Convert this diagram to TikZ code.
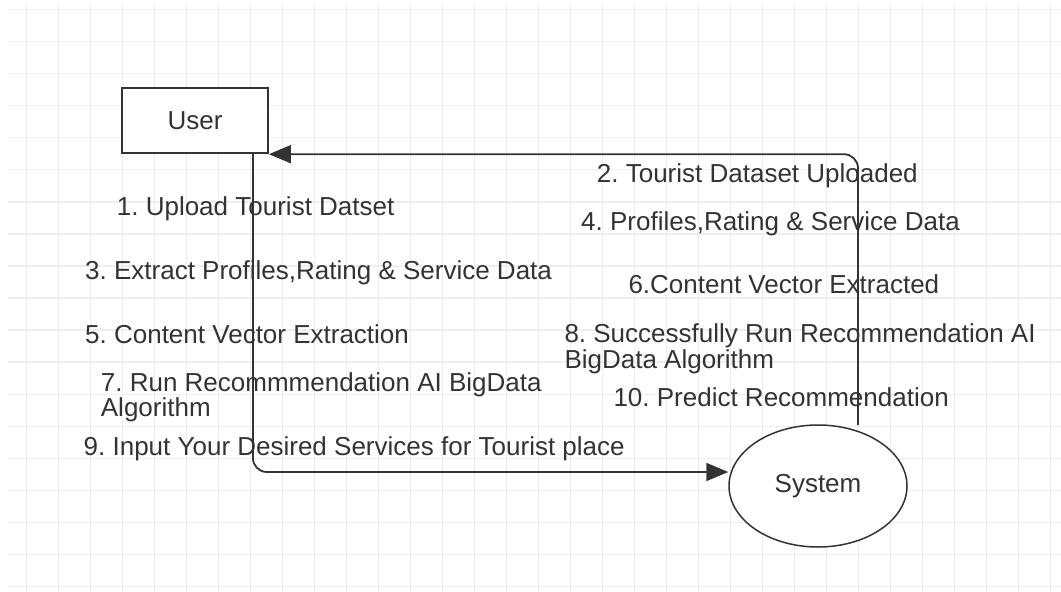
\documentclass[tikz,border=0pt]{standalone}
\usepackage{fontspec}
\setmainfont{Liberation Sans}
\usetikzlibrary{arrows.meta,calc,shapes.geometric}
\definecolor{ink}{HTML}{333333}
\definecolor{gridline}{HTML}{EEEEEE}
\frenchspacing
\begin{document}
\begin{tikzpicture}[x=1pt,y=-1pt,
  font=\fontsize{26}{25.6}\selectfont,
  lbl/.style={anchor=base west, inner sep=0, text=ink, align=left},
  flow/.style={draw=ink, line width=1.8, rounded corners=14,
    -{Triangle[length=22,width=18]}},
  entity/.style={draw=ink, line width=1.8, fill=white, text=ink,
    minimum width=146, minimum height=65, inner sep=0},
  process/.style={ellipse, draw=ink, line width=1.5, fill=white, text=ink,
    minimum width=178, minimum height=122, inner sep=0}]
  % canvas and background grid
  \fill[white] (0,0) rectangle (1061,592);
  \useasboundingbox (0,0) rectangle (1061,592);
  \foreach \i in {0,...,32}
    \draw[gridline, line width=1.5] ({26.7+32*\i},5) -- ({26.7+32*\i},592);
  \foreach \j in {0,...,18}
    \draw[gridline, line width=1.5] (8,{9.3+32.08*\j}) -- (1061,{9.3+32.08*\j});

  % actors
  \node[entity] (user) at (195,120.8) {User};
  \node[process] (system) at (818,486) {System};

  % message labels (anchored at the baseline of their last line)
  \node[lbl] (l1) at (116.7,215) {1. Upload Tourist Datset};
  \node[lbl] (l2) at (596.7,182.3) {2. Tourist Dataset Uploaded};
  \node[lbl] (l3) at (85,279) {3. Extract Profiles,Rating \& Service Data};
  \node[lbl] (l4) at (581,230.7) {4. Profiles,Rating \& Service Data};
  \node[lbl] (l5) at (85,343.3) {5. Content Vector Extraction};
  \node[lbl] (l6) at (628.3,293.3) {6.Content Vector Extracted};
  \node[lbl] (l7) at (100.7,416.7) {7. Run Recommmendation AI BigData\\Algorithm};
  \node[lbl] (l8) at (564.3,368.3) {8. Successfully Run Recommendation AI\\BigData Algorithm};
  \node[lbl] (l9) at (83.5,455) {9. Input Your Desired Services for Tourist place};
  \node[lbl] (l10) at (613.3,406.7) {10. Predict Recommendation};

  % connectors
  \coordinate (sysout) at (858,425);
  \draw[flow] (sysout) |- (user.south east);
  \draw[flow] ([xshift=-16pt]user.south east) |- ($(system.west)+(0,-14)$);
\end{tikzpicture}
\end{document}
